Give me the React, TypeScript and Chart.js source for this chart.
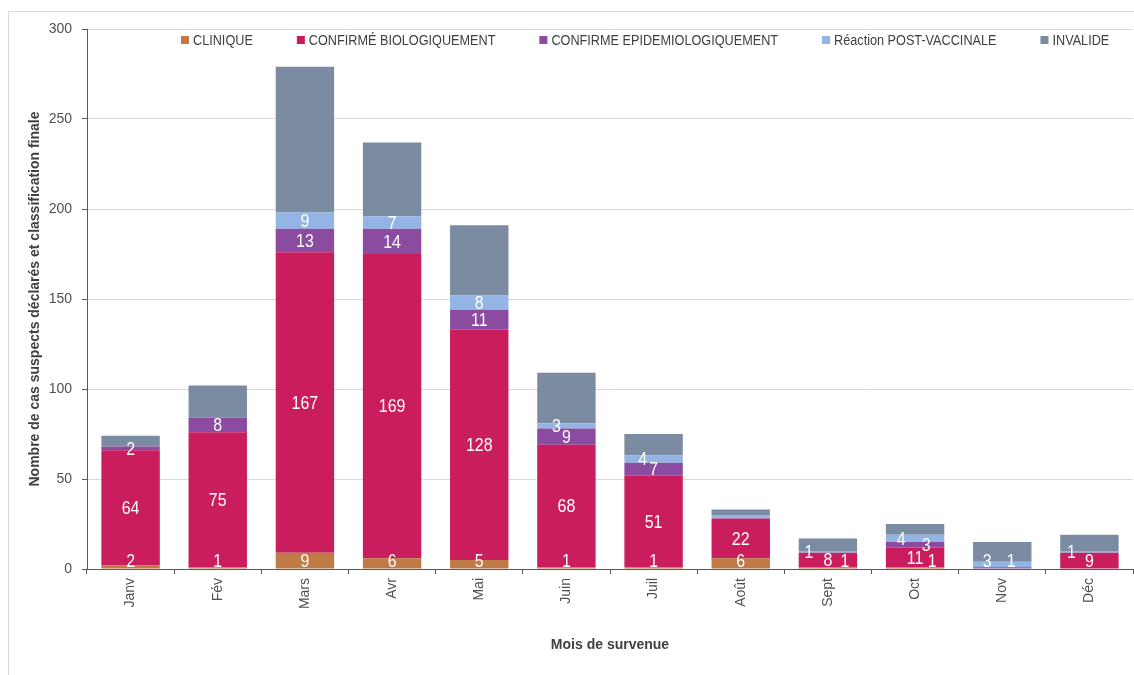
import React, { useEffect, useRef } from 'react';
import { Chart, registerables } from 'chart.js';

Chart.register(...registerables);

const categories = ['Janv', 'Fév', 'Mars', 'Avr', 'Mai', 'Juin', 'Juil', 'Août', 'Sept', 'Oct', 'Nov', 'Déc'];
const clinique = [2, 1, 9, 6, 5, 1, 1, 6, 1, 1, 0, 0];
const confirmeBio = [64, 75, 167, 169, 128, 68, 51, 22, 8, 11, 0, 9];
const confirmeEpid = [2, 8, 13, 14, 11, 9, 7, 0, 0, 3, 1, 0];
const postVaccinale = [0, 0, 9, 7, 8, 3, 4, 2, 1, 4, 3, 1];
const invalide = [6, 18, 81, 41, 39, 28, 12, 3, 7, 6, 11, 9];

const seriesNames = ['CLINIQUE', 'CONFIRMÉ BIOLOGIQUEMENT', 'CONFIRME EPIDEMIOLOGIQUEMENT', 'Réaction POST-VACCINALE', 'INVALIDE'];
const seriesValues = [clinique, confirmeBio, confirmeEpid, postVaccinale, invalide];
const seriesColors = ['#C07A45', '#CA1D5E', '#8A4BA0', '#93B5E6', '#7B8BA1'];

const yMin = 0;
const yMax = 300;
const yStep = 50;

const xTitle = 'Mois de survenue';
const yTitle = 'Nombre de cas suspects déclarés et classification finale';

// label styling: which series carry value labels, horizontal nudges (px) and hidden ones
const labelledSeries = [0, 1, 2, 3];
const labelShiftX: Record<string, number> = {
  '0-8': 17, '0-9': 17,
  '2-9': 11, '2-10': 9,
  '3-5': -10, '3-6': -11, '3-8': -19, '3-9': -14, '3-10': -15, '3-11': -18,
};
const hiddenLabels = new Set(['3-7']);

const FONT = '"Liberation Sans", Arial, sans-serif';

const overlayPlugin = {
  id: 'overlay',
  afterDatasetsDraw(chart: any) {
    const ctx = chart.ctx as CanvasRenderingContext2D;
    const yScale = chart.scales.y;
    const zeroY = yScale.getPixelForValue(0);
    ctx.save();
    // value labels
    ctx.fillStyle = '#FFFFFF';
    ctx.font = `19px ${FONT}`;
    ctx.textAlign = 'center';
    ctx.textBaseline = 'middle';
    chart.data.datasets.forEach((ds: any, di: number) => {
      if (!labelledSeries.includes(di)) return;
      const meta = chart.getDatasetMeta(di);
      meta.data.forEach((bar: any, i: number) => {
        const v = ds.data[i];
        if (!v) return;
        const key = `${di}-${i}`;
        if (hiddenLabels.has(key)) return;
        const p = bar.getProps(['x', 'y', 'base'], true);
        let cy = (p.y + p.base) / 2;
        cy = Math.min(cy, zeroY - 8);
        const cx = p.x + (labelShiftX[key] || 0);
        ctx.save();
        ctx.translate(cx, cy);
        ctx.scale(0.84, 1);
        ctx.fillText(String(v), 0, 1);
        ctx.restore();
      });
    });
    // legend
    ctx.font = `14px ${FONT}`;
    ctx.textAlign = 'left';
    ctx.textBaseline = 'middle';
    let x = 181;
    const y = 40;
    const sx = 0.905;
    seriesNames.forEach((name, i) => {
      ctx.fillStyle = seriesColors[i];
      ctx.fillRect(x, y - 4, 8, 8);
      ctx.fillStyle = '#404040';
      const tx = x + 12;
      const w = ctx.measureText(name).width * sx;
      ctx.save();
      ctx.translate(tx, y + 1);
      ctx.scale(sx, 1);
      ctx.fillText(name, 0, 0);
      ctx.restore();
      x = tx + w + 44;
    });
    ctx.restore();
  },
};

export default function App() {
  const canvasRef = useRef<HTMLCanvasElement | null>(null);

  useEffect(() => {
    const canvas = canvasRef.current;
    if (!canvas) return;
    const chart = new Chart(canvas, {
      type: 'bar',
      data: {
        labels: categories,
        datasets: seriesNames.map((name, i) => ({
          label: name,
          data: seriesValues[i],
          backgroundColor: seriesColors[i],
          borderWidth: 0,
          categoryPercentage: 1,
          barPercentage: 0.67,
        })),
      },
      options: {
        animation: false,
        responsive: false,
        maintainAspectRatio: false,
        layout: { padding: { left: 0, right: 1, top: 29, bottom: 0 } },
        plugins: {
          legend: { display: false },
          tooltip: { enabled: false },
        },
        scales: {
          x: {
            stacked: true,
            grid: {
              display: true,
              drawOnChartArea: false,
              offset: true,
              tickLength: 5,
              color: '#595959',
              tickColor: '#595959',
            },
            border: { color: '#595959', width: 1 },
            ticks: {
              minRotation: 90,
              maxRotation: 90,
              autoSkip: false,
              padding: 4,
              color: '#505050',
              font: { size: 14, family: FONT },
            },
            title: {
              display: true,
              text: xTitle,
              color: '#404040',
              font: { size: 14, weight: 'bold', family: FONT },
              padding: { top: 0, bottom: 21 },
            },
            afterFit: (s: any) => {
              s.height = 106;
            },
          },
          y: {
            stacked: true,
            min: yMin,
            max: yMax,
            grid: {
              color: '#D9D9D9',
              tickColor: '#595959',
              tickLength: 5,
            },
            border: { color: '#595959', width: 1 },
            ticks: {
              stepSize: yStep,
              padding: 10,
              color: '#505050',
              font: { size: 14, family: FONT },
            },
            title: {
              display: true,
              text: yTitle,
              color: '#404040',
              font: { size: 14, weight: 'bold', family: FONT },
              padding: { top: 27, bottom: 0 },
            },
            afterFit: (s: any) => {
              s.width = 87;
            },
          },
        },
      } as any,
      plugins: [overlayPlugin],
    });
    return () => chart.destroy();
  }, []);

  return (
    <div style={{ position: 'fixed', left: 0, top: 0, width: 1134, height: 675, background: '#FFFFFF', overflow: 'hidden' }}>
      <div
        style={{
          position: 'absolute',
          left: 8,
          top: 11,
          width: 1200,
          height: 700,
          border: '1px solid #D9D9D9',
          boxSizing: 'border-box',
        }}
      />
      <canvas
        ref={canvasRef}
        width={1134}
        height={675}
        style={{ position: 'absolute', left: 0, top: 0, width: 1134, height: 675 }}
      />
    </div>
  );
}
